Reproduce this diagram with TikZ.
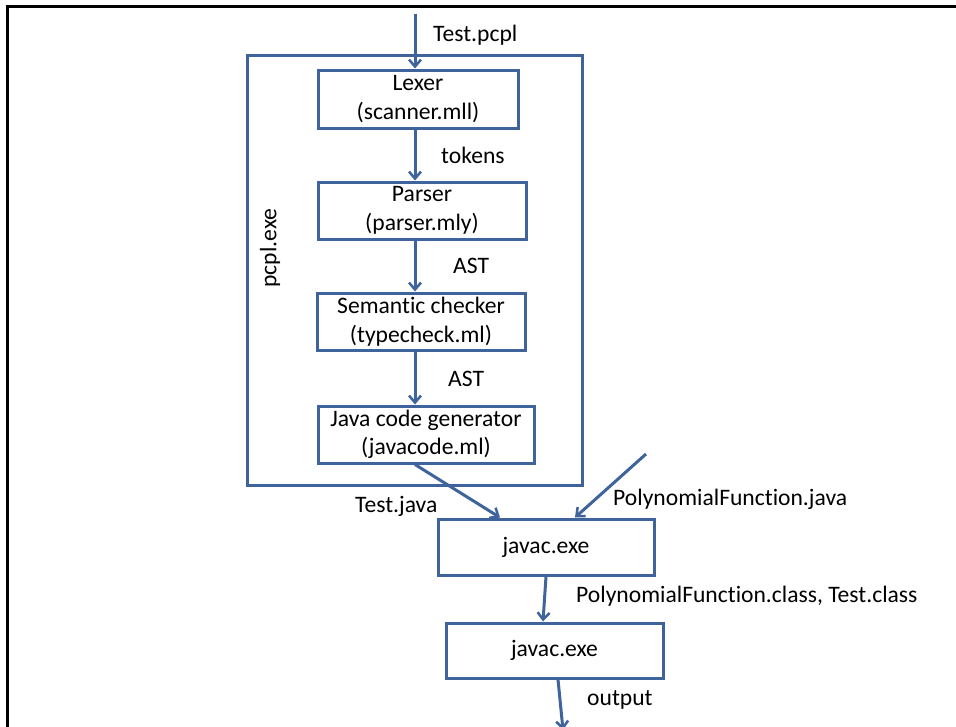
\documentclass[tikz,border=0pt]{standalone}
\usepackage{fontspec}
\setmainfont[Ligatures=NoCommon]{Carlito}
\usetikzlibrary{arrows.meta}
\definecolor{lineblue}{RGB}{62,100,155}
\tikzset{
  every node/.style={font=\fontsize{23.6}{28.5}\selectfont},
  box/.style={draw=lineblue, line width=3pt, align=center, inner sep=0pt},
  arr/.style={draw=lineblue, line width=3pt, -{Straight Barb[length=7pt,width=12pt,line width=2.5pt]}},
  lbl/.style={anchor=west, inner sep=0pt},
}
\begin{document}
\begin{tikzpicture}[x=1pt,y=1pt]
\useasboundingbox (0,0) rectangle (956,-726);
% outer frame
\draw[line width=3pt, black] (7,-730) -- (7,-6) -- (960,-6);
% pcpl.exe box
\node[box, minimum width=335pt, minimum height=430pt] (pcpl) at (414.5,-270) {};
\node[rotate=90, inner sep=0pt] (pcpllbl) at (270,-248) {pcpl.exe};
% stages
\node[box, minimum width=200pt, minimum height=58pt] (lexer) at (418,-99) {Lexer\\(scanner.mll)};
\node[box, minimum width=208pt, minimum height=57pt] (parser) at (422,-210.5) {Parser\\(parser.mly)};
\node[box, minimum width=208pt, minimum height=57pt] (sem) at (421,-321.5) {Semantic checker\\(typecheck.ml)};
\node[box, minimum width=216pt, minimum height=57pt] (jgen) at (426,-434.5) {Java code generator\\(javacode.ml)};
\node[box, minimum width=216pt, minimum height=56pt] (javac1) at (546,-547) {javac.exe};
\node[box, minimum width=217pt, minimum height=55pt] (javac2) at (554.5,-650.5) {javac.exe};
% free ends
\coordinate (in) at (415,-14);
\coordinate (pf) at (646,-454);
\coordinate (out) at (563,-730);
% connectors
\draw[arr] (in) -- (in |- lexer.north);
\draw[arr] (lexer.south -| in) -- (parser.north -| in);
\draw[arr] (parser.south -| in) -- (sem.north -| in);
\draw[arr] (sem.south -| in) -- (jgen.north -| in);
\draw[arr] (jgen.south -| in) -- ([xshift=-46pt]javac1.north);
\draw[arr] (pf) -- ([xshift=29pt]javac1.north);
\draw[arr] (javac1.south) -- ([xshift=-11.5pt]javac2.north);
\draw[arr] ([xshift=3.5pt]javac2.south) -- (out);
% labels
\node[lbl] (l1) at (433,-35) {Test.pcpl};
\node[lbl] (l2) at (441,-155) {tokens};
\node[lbl] (l3) at (453,-265.5) {AST};
\node[lbl] (l4) at (448,-379) {AST};
\node[lbl] (l5) at (355,-506) {Test.java};
\node[lbl] (l6) at (613,-499) {PolynomialFunction.java};
\node[lbl] (l7) at (576,-596) {PolynomialFunction.class, Test.class};
\node[lbl] (l8) at (587,-700) {output};
\end{tikzpicture}
\end{document}
